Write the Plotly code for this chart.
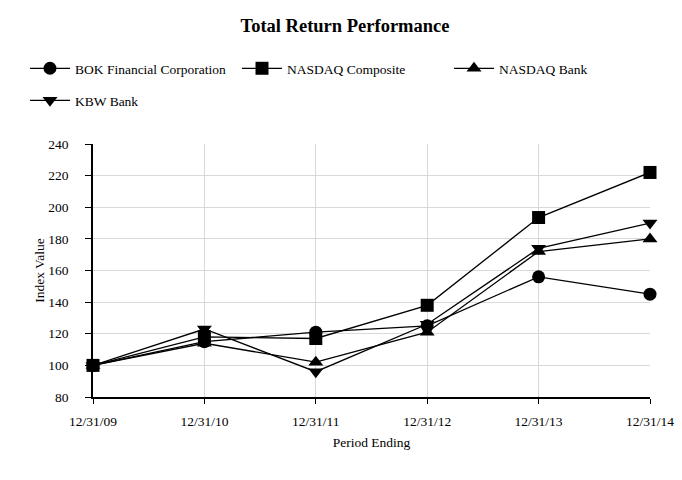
import plotly.graph_objects as go

periods = ["12/31/09", "12/31/10", "12/31/11", "12/31/12", "12/31/13", "12/31/14"]
bok = [100, 115, 121, 125, 156, 145]
nasdaq_comp = [100, 118, 117, 138, 193.5, 222]
nasdaq_bank = [100, 114, 102, 121, 172, 180]
kbw_bank = [100, 123, 96, 126, 174, 190]

series = [
    ("BOK Financial Corporation", bok, "circle", "legend"),
    ("NASDAQ Composite", nasdaq_comp, "square", "legend2"),
    ("NASDAQ Bank", nasdaq_bank, "triangle-up", "legend3"),
    ("KBW Bank", kbw_bank, "triangle-down", "legend4"),
]

fig = go.Figure()
for name, vals, sym, lg in series:
    fig.add_trace(go.Scatter(
        x=list(range(len(periods))), y=vals, name=name, mode="lines+markers",
        line=dict(color="black", width=1.3),
        marker=dict(symbol=sym, size=13, color="black"),
        cliponaxis=False, legend=lg,
    ))

font = "Liberation Serif, Times New Roman, serif"
W, H = 674, 472  # page body has an 8px margin inside the 682x480 window


def leg(xpx, ypx):
    return dict(orientation="h", xref="container", yref="container",
                x=xpx / W, xanchor="left", y=1 - ypx / H, yanchor="top",
                itemwidth=40, font=dict(size=13.5, family=font),
                bgcolor="rgba(0,0,0,0)")


fig.update_layout(
    width=W, height=H,
    margin=dict(l=85, r=32, t=136, b=83, autoexpand=False),
    paper_bgcolor="white", plot_bgcolor="white",
    font=dict(family=font, size=13.5, color="black"),
    title=dict(text="<b>Total Return Performance</b>", x=0.5, xanchor="center",
               y=1 - 18 / H, yanchor="middle", font=dict(size=18.5, family=font)),
    legend=leg(17, 45),
    legend2=leg(229, 45),
    legend3=leg(441, 45),
    legend4=leg(17, 77),
    showlegend=True,
)
fig.update_xaxes(
    range=[0, 5], tickmode="array", tickvals=list(range(len(periods))), ticktext=periods,
    showgrid=True, gridcolor="#d9d9d9", gridwidth=1,
    showline=True, linecolor="black", linewidth=1.5,
    ticks="outside", ticklen=5, tickcolor="black", ticklabelstandoff=6,
    tickfont=dict(size=13.5, family=font),
    title=dict(text="Period Ending", font=dict(size=13.5, family=font), standoff=10),
    zeroline=False, automargin=False,
)
fig.update_yaxes(
    range=[80, 240], dtick=20,
    showgrid=True, gridcolor="#d9d9d9", gridwidth=1,
    showline=True, linecolor="black", linewidth=1.5,
    ticks="outside", ticklen=6, tickcolor="black", ticklabelstandoff=14,
    tickfont=dict(size=13.5, family=font),
    title=dict(text="Index Value", font=dict(size=13.5, family=font), standoff=1),
    zeroline=False, automargin=False,
)
fig.write_html("out.html")
